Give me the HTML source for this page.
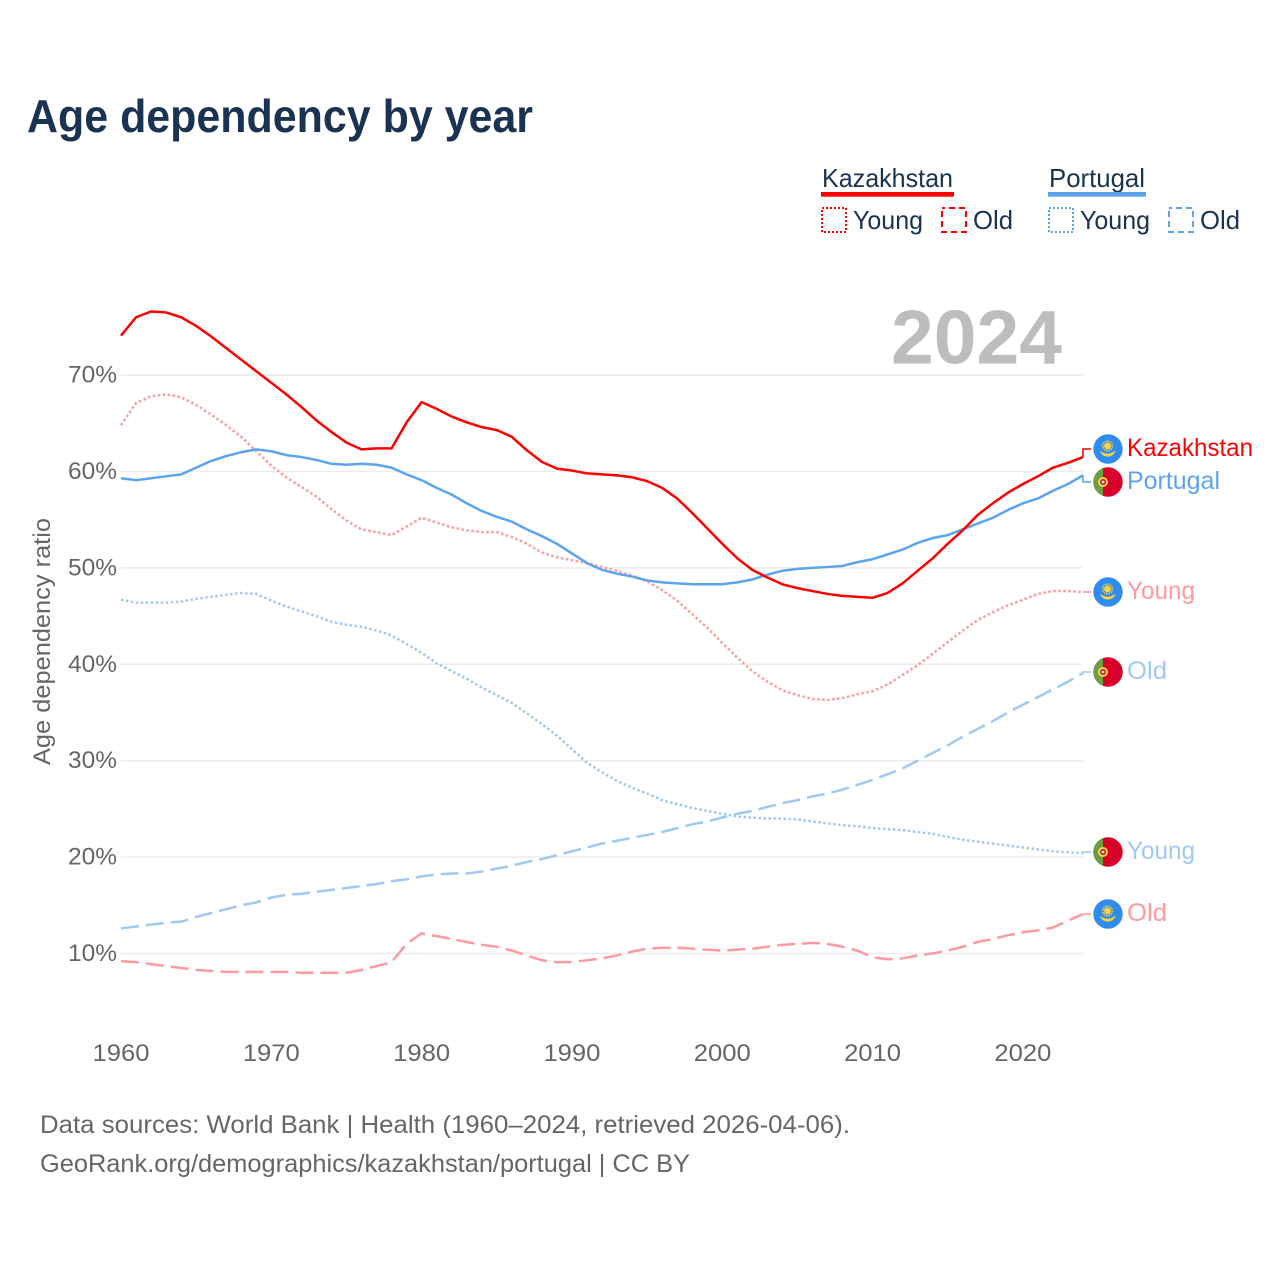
<!DOCTYPE html>
<html lang="en">
<head>
<meta charset="utf-8">
<title>Age dependency by year</title>
<style>
html,body{margin:0;padding:0;background:#fff;width:1280px;height:1280px;overflow:hidden}
svg{display:block}
text{font-family:"Liberation Sans",sans-serif}
</style>
</head>
<body>
<svg id="chart" xmlns="http://www.w3.org/2000/svg" width="1280" height="1280" viewBox="0 0 1280 1280">
  <defs>
    <clipPath id="flag-clip"><circle cx="0" cy="0" r="14.7"/></clipPath>
    <g id="kz-flag">
      <circle r="14.7" fill="#2f8cf0"/>
      <circle cx="-0.5" cy="-3" r="3.4" fill="#ffd43b"/>
      <circle cx="-0.5" cy="-3" r="4.8" fill="none" stroke="#ffd43b" stroke-width="1.5" stroke-dasharray="1.5 1"/>
      <path d="M-8 1.5 Q-5 4.6 -0.5 4.8 Q4 4.6 7.5 1.5 Q6 7.3 -0.5 7.6 Q-6.5 7.3 -8 1.5Z" fill="#ffd43b"/>
    </g>
    <g id="pt-flag">
      <g clip-path="url(#flag-clip)">
        <rect x="-15" y="-15" width="30" height="30" fill="#d8002a"/>
        <rect x="-15" y="-15" width="10" height="30" fill="#6b9f45"/>
      </g>
      <circle cx="-5" cy="0" r="5" fill="#ffd43b"/>
      <circle cx="-5" cy="0" r="3" fill="#c8102e"/>
      <circle cx="-5" cy="0" r="1.4" fill="#fff"/>
    </g>
  </defs>

  <text x="27" y="132" font-size="46" font-weight="700" fill="#1a3352" textLength="506" lengthAdjust="spacingAndGlyphs">Age dependency by year</text>

  <g>
    <text x="822" y="187" font-size="26" fill="#1a3352" textLength="131" lengthAdjust="spacingAndGlyphs">Kazakhstan</text>
    <rect x="821" y="192" width="133" height="4.7" fill="#ff0000"/>
    <rect x="822" y="208" width="24" height="24" fill="none" stroke="#ff0000" stroke-width="2" stroke-dasharray="2 2"/>
    <text x="853" y="229" font-size="26" fill="#1a3352" textLength="70" lengthAdjust="spacingAndGlyphs">Young</text>
    <rect x="942" y="208" width="24" height="24" fill="none" stroke="#ff0000" stroke-width="2" stroke-dasharray="6 4" stroke-dashoffset="3"/>
    <text x="973" y="229" font-size="26" fill="#1a3352" textLength="40" lengthAdjust="spacingAndGlyphs">Old</text>

    <text x="1049" y="187" font-size="26" fill="#1a3352" textLength="96" lengthAdjust="spacingAndGlyphs">Portugal</text>
    <rect x="1048" y="192" width="98" height="4.7" fill="#5ca4ef"/>
    <rect x="1049" y="208" width="24" height="24" fill="none" stroke="#5ca4ef" stroke-width="2" stroke-dasharray="2 2"/>
    <text x="1080" y="229" font-size="26" fill="#1a3352" textLength="70" lengthAdjust="spacingAndGlyphs">Young</text>
    <rect x="1169" y="208" width="24" height="24" fill="none" stroke="#5ca4ef" stroke-width="2" stroke-dasharray="6 4" stroke-dashoffset="3"/>
    <text x="1200" y="229" font-size="26" fill="#1a3352" textLength="40" lengthAdjust="spacingAndGlyphs">Old</text>
  </g>

  <g id="grid"></g>
  <text x="891" y="363.5" font-size="76" font-weight="700" fill="#bdbdbd" textLength="171" lengthAdjust="spacingAndGlyphs">2024</text>
  <g id="y-ticks"></g>
  <g id="x-ticks"></g>
  <text transform="translate(50,765) rotate(-90)" x="0" y="0" font-size="24.5" fill="#666666" textLength="247" lengthAdjust="spacingAndGlyphs">Age dependency ratio</text>

  <g id="series"></g>
  <g id="connectors"></g>

  <g>
    <use href="#kz-flag" x="1108" y="449"/>
    <text x="1127" y="456" font-size="25" fill="#ff0000" textLength="126" lengthAdjust="spacingAndGlyphs">Kazakhstan</text>
    <use href="#pt-flag" x="1108" y="482"/>
    <text x="1127" y="489" font-size="25" fill="#5ca4ef" textLength="93" lengthAdjust="spacingAndGlyphs">Portugal</text>
    <use href="#kz-flag" x="1108" y="592"/>
    <text x="1127" y="599" font-size="25" fill="#ff9a9f" textLength="68" lengthAdjust="spacingAndGlyphs">Young</text>
    <use href="#pt-flag" x="1108" y="672"/>
    <text x="1127" y="679" font-size="25" fill="#9fc8f3" textLength="40" lengthAdjust="spacingAndGlyphs">Old</text>
    <use href="#pt-flag" x="1108" y="852"/>
    <text x="1127" y="859" font-size="25" fill="#9fc8f3" textLength="68" lengthAdjust="spacingAndGlyphs">Young</text>
    <use href="#kz-flag" x="1108" y="914"/>
    <text x="1127" y="921" font-size="25" fill="#ff9a9f" textLength="40" lengthAdjust="spacingAndGlyphs">Old</text>
  </g>

  <text x="40" y="1133" font-size="25" fill="#666666" textLength="810" lengthAdjust="spacingAndGlyphs">Data sources: World Bank | Health (1960–2024, retrieved 2026-04-06).</text>
  <text x="40" y="1172" font-size="25" fill="#666666" textLength="650" lengthAdjust="spacingAndGlyphs">GeoRank.org/demographics/kazakhstan/portugal | CC BY</text>
</svg>

<script>
var firstYear = 1960;
var lastYear = 2024;
var xTickYears = [1960, 1970, 1980, 1990, 2000, 2010, 2020];
var yTickValues = [10, 20, 30, 40, 50, 60, 70];

var kazakhstanTotal = [74.1,76.0,76.6,76.5,76.0,75.1,74.0,72.8,71.6,70.4,
  69.2,68.0,66.7,65.3,64.1,63.0,62.3,62.4,62.4,65.1,
  67.2,66.5,65.7,65.1,64.6,64.3,63.6,62.2,61.0,60.3,
  60.1,59.8,59.7,59.6,59.4,59.0,58.3,57.2,55.7,54.1,
  52.5,51.0,49.8,49.0,48.3,47.9,47.6,47.3,47.1,47.0,
  46.9,47.4,48.4,49.7,51.0,52.5,53.9,55.5,56.7,57.8,
  58.7,59.5,60.4,60.9,61.5];
var portugalTotal = [59.3,59.1,59.3,59.5,59.7,60.4,61.1,61.6,62.0,62.3,
  62.1,61.7,61.5,61.2,60.8,60.7,60.8,60.7,60.4,59.7,
  59.1,58.3,57.6,56.7,55.9,55.3,54.8,54.0,53.3,52.5,
  51.5,50.5,49.8,49.4,49.1,48.7,48.5,48.4,48.3,48.3,
  48.3,48.5,48.8,49.3,49.7,49.9,50.0,50.1,50.2,50.6,
  50.9,51.4,51.9,52.6,53.1,53.4,54.0,54.6,55.2,56.0,
  56.7,57.2,58.0,58.7,59.6];
var kazakhstanYoung = [64.8,67.1,67.8,68.0,67.7,66.9,65.9,64.8,63.6,62.1,
  60.6,59.4,58.4,57.4,56.1,54.9,54.0,53.7,53.4,54.3,
  55.2,54.7,54.2,53.9,53.7,53.7,53.2,52.5,51.6,51.1,
  50.8,50.5,50.1,49.7,49.2,48.6,47.7,46.6,45.2,43.8,
  42.2,40.7,39.3,38.2,37.3,36.8,36.4,36.3,36.5,36.9,
  37.2,37.9,38.9,39.9,41.1,42.3,43.5,44.6,45.4,46.1,
  46.7,47.3,47.6,47.6,47.5];
var kazakhstanOld = [9.2,9.1,8.9,8.7,8.5,8.3,8.2,8.1,8.1,8.1,
  8.1,8.1,8.0,8.0,8.0,8.0,8.3,8.7,9.1,11.0,
  12.1,11.8,11.5,11.2,10.9,10.7,10.3,9.8,9.3,9.1,
  9.1,9.3,9.5,9.8,10.2,10.5,10.6,10.6,10.5,10.4,
  10.3,10.4,10.5,10.7,10.9,11.0,11.1,11.0,10.7,10.3,
  9.6,9.4,9.5,9.8,10.0,10.3,10.7,11.2,11.5,11.9,
  12.2,12.4,12.7,13.4,14.1];
var portugalYoung = [46.7,46.4,46.4,46.4,46.5,46.8,47.0,47.2,47.4,47.3,
  46.6,46.0,45.5,45.0,44.4,44.1,43.9,43.5,43.0,42.1,
  41.2,40.1,39.3,38.5,37.6,36.8,36.0,34.9,33.8,32.6,
  31.2,29.8,28.8,27.9,27.2,26.6,25.9,25.5,25.1,24.8,
  24.5,24.2,24.1,24.0,24.0,23.9,23.7,23.5,23.3,23.2,
  23.0,22.9,22.8,22.6,22.4,22.1,21.8,21.6,21.4,21.2,
  21.0,20.8,20.6,20.5,20.4];
var portugalOld = [12.6,12.8,13.0,13.2,13.3,13.8,14.2,14.6,15.0,15.3,
  15.8,16.1,16.2,16.4,16.6,16.8,17.0,17.2,17.5,17.7,
  18.0,18.2,18.3,18.3,18.5,18.8,19.1,19.5,19.8,20.2,
  20.6,21.0,21.4,21.7,22.0,22.3,22.6,23.0,23.4,23.7,
  24.1,24.5,24.8,25.2,25.6,25.9,26.3,26.6,27.0,27.5,
  28.0,28.6,29.2,30.0,30.8,31.6,32.5,33.3,34.1,35.0,
  35.8,36.6,37.4,38.2,39.1];

var SVG_NS = 'http://www.w3.org/2000/svg';

function xScale(year) {
  return 121 + (year - firstYear) * (1083 - 121) / (lastYear - firstYear);
}
function yScale(value) {
  return 953.5 - (value - 10) * 9.64;
}
function linePath(values) {
  var d = '';
  for (var i = 0; i < values.length; i++) {
    d += (i === 0 ? 'M' : 'L') + xScale(firstYear + i).toFixed(2) + ' ' + yScale(values[i]).toFixed(2);
  }
  return d;
}
function drawLine(name, values, color, dash) {
  var p = document.createElementNS(SVG_NS, 'path');
  
  
  p.setAttribute('d', linePath(values));
  p.setAttribute('fill', 'none');
  p.setAttribute('stroke', color);
  p.setAttribute('stroke-width', '2.5');
  p.setAttribute('stroke-linejoin', 'round');
  if (dash) p.setAttribute('stroke-dasharray', dash);
  document.getElementById('series').appendChild(p);
}
function drawConnector(name, values, labelY, color) {
  var endY = yScale(values[values.length - 1]);
  var p = document.createElementNS(SVG_NS, 'path');
  
  
  p.setAttribute('d', 'M' + xScale(lastYear) + ' ' + endY.toFixed(2) + 'V' + labelY + 'H1091');
  p.setAttribute('fill', 'none');
  p.setAttribute('stroke', color);
  p.setAttribute('stroke-width', '1.6');
  document.getElementById('connectors').appendChild(p);
}

yTickValues.forEach(function (v) {
  var g = document.createElementNS(SVG_NS, 'line');
  
  
  g.setAttribute('x1', xScale(firstYear));
  g.setAttribute('x2', xScale(lastYear));
  g.setAttribute('y1', yScale(v));
  g.setAttribute('y2', yScale(v));
  g.setAttribute('stroke', '#ececec');
  g.setAttribute('stroke-width', '1.5');
  document.getElementById('grid').appendChild(g);

  var t = document.createElementNS(SVG_NS, 'text');
  
  
  t.setAttribute('x', '117');
  t.setAttribute('y', yScale(v) + 7.5);
  t.setAttribute('text-anchor', 'end');
  t.setAttribute('font-size', '24.5');
  t.setAttribute('fill', '#666666');
  t.setAttribute('textLength', '49');
  t.setAttribute('lengthAdjust', 'spacingAndGlyphs');
  t.textContent = v + '%';
  document.getElementById('y-ticks').appendChild(t);
});

xTickYears.forEach(function (yr) {
  var t = document.createElementNS(SVG_NS, 'text');
  
  
  t.setAttribute('x', xScale(yr));
  t.setAttribute('y', '1061');
  t.setAttribute('text-anchor', 'middle');
  t.setAttribute('font-size', '24.5');
  t.setAttribute('fill', '#666666');
  t.setAttribute('textLength', '57');
  t.setAttribute('lengthAdjust', 'spacingAndGlyphs');
  t.textContent = yr;
  document.getElementById('x-ticks').appendChild(t);
});

drawLine('portugal-young-line', portugalYoung, '#9fc8f3', '2.5 2.5');
drawLine('portugal-old-line', portugalOld, '#9fc8f3', '18 7');
drawLine('kazakhstan-young-line', kazakhstanYoung, '#ff9a9f', '2.5 2.5');
drawLine('kazakhstan-old-line', kazakhstanOld, '#ff9a9f', '18 7');
drawLine('portugal-total-line', portugalTotal, '#5ca4ef', '');
drawLine('kazakhstan-total-line', kazakhstanTotal, '#ff0000', '');

drawConnector('connector-kazakhstan', kazakhstanTotal, 449, '#ff0000');
drawConnector('connector-portugal', portugalTotal, 482, '#5ca4ef');
drawConnector('connector-kazakhstan-young', kazakhstanYoung, 592, '#ff9a9f');
drawConnector('connector-portugal-old', portugalOld, 672, '#9fc8f3');
drawConnector('connector-portugal-young', portugalYoung, 852, '#9fc8f3');
drawConnector('connector-kazakhstan-old', kazakhstanOld, 914, '#ff9a9f');
</script>
</body>
</html>
